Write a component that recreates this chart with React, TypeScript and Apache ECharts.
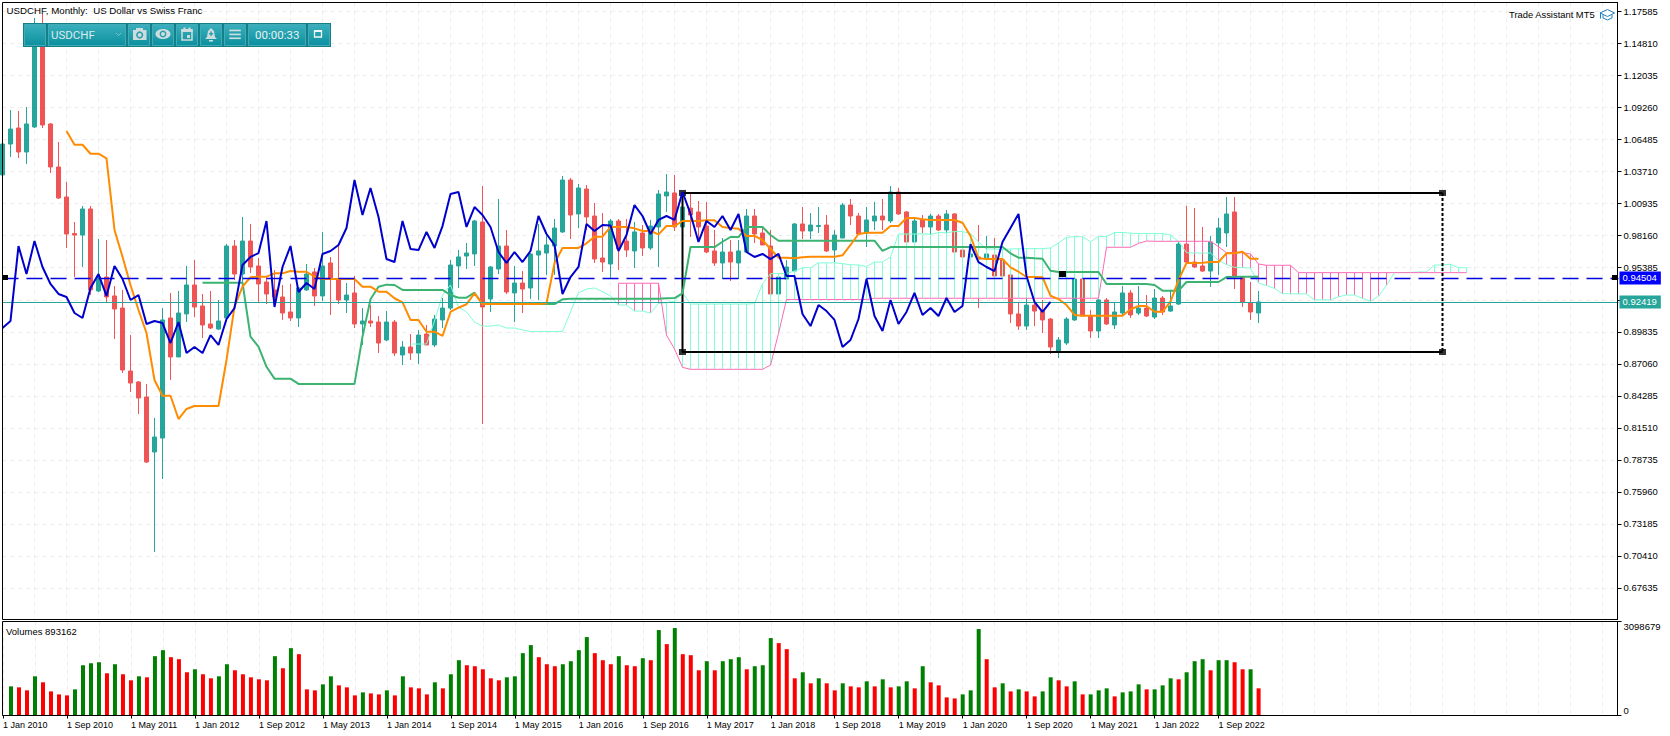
import React, { useEffect, useRef } from "react";
import * as echarts from "echarts";

const TICK_FONT = "Liberation Sans";
const tickLabels = ["1 Jan 2010","1 Sep 2010","1 May 2011","1 Jan 2012","1 Sep 2012","1 May 2013","1 Jan 2014","1 Sep 2014","1 May 2015","1 Jan 2016","1 Sep 2016","1 May 2017","1 Jan 2018","1 Sep 2018","1 May 2019","1 Jan 2020","1 Sep 2020","1 May 2021","1 Jan 2022","1 Sep 2022"];
const priceTicks = [1.17585,1.1481,1.12035,1.0926,1.06485,1.0371,1.00935,0.9816,0.95385,0.9261,0.89835,0.8706,0.84285,0.8151,0.78735,0.7596,0.73185,0.7041,0.67635];
const priceTickUnderTag = 0.9261;
const volumeTicks = [0, 3098679];
const bidPrice = 0.94504;
const lastPrice = 0.92419;
const boxLeft = 85, boxRight = 180, boxTop = 1.0187, boxBottom = 0.8808;

const opens = [1.0343,1.0611,1.0750,1.0542,1.0759,1.1600,1.0785,1.0412,1.0152,.9835,.9822,1.0048,.9337,.9458,.9294,.9189,.8643,.8548,.8418,.7941,.8062,.9103,.8765,.9138,.9389,.9207,.9051,.9007,.9103,.9727,.9484,.9770,.9554,.9415,.9346,.9285,.9155,.9103,.9346,.9502,.9294,.9580,.9441,.9259,.9320,.9051,.9077,.9068,.8912,.9068,.8782,.8851,.8799,.8964,.8869,.9086,.9189,.9554,.9640,.9658,.9935,.9268,.9528,.9727,.9320,.9406,.9363,.9649,.9666,.9727,.9849,1.0299,1.0005,1.0221,.9987,.9623,.9571,.9944,.9770,.9684,.9840,.9710,.9892,1.0161,1.0187,.9892,1.0056,1.0022,.9900,.9684,.9580,.9675,.9580,.9675,.9987,.9840,.9727,.9311,.9441,.9510,.9918,.9857,.9896,.9909,.9692,.9796,1.0082,.9987,.9840,.9944,.9987,.9944,1.0195,1.0022,.9762,.9953,.9892,.9987,.9866,1.0005,.9692,.9632,.9632,.9623,.9649,.9606,.9476,.9138,.9033,.9215,.9163,.9094,.8817,.8886,.9086,.9441,.9120,.8990,.9259,.9042,.9146,.9320,.9146,.9189,.9111,.9276,.9163,.9224,.9744,.9588,.9554,.9510,.9753,.9840,1.0022,.9458,.9233,.9146];
const closes = [1.0611,1.0741,1.0542,1.0785,1.1600,1.0776,1.0412,1.0143,.9831,.9822,1.0048,.9346,.9458,.9285,.9181,.8652,.8539,.8409,.7854,.8071,.9086,.8765,.9146,.9389,.9198,.9042,.9016,.9077,.9727,.9484,.9770,.9545,.9398,.9311,.9285,.9146,.9103,.9363,.9484,.9294,.9554,.9441,.9259,.9302,.9051,.9077,.9059,.8886,.9068,.8799,.8851,.8799,.8955,.8869,.9094,.9189,.9562,.9632,.9666,.9944,.9198,.9545,.9727,.9328,.9406,.9354,.9658,.9684,.9736,.9883,1.0299,.9996,1.0230,.9979,.9614,.9588,.9944,.9701,.9692,.9849,.9710,.9900,1.0178,1.0195,.9892,1.0065,.9996,.9892,.9675,.9580,.9675,.9588,.9684,.9987,.9831,.9736,.9311,.9458,.9545,.9918,.9857,.9909,.9905,.9684,.9822,1.0082,.9987,.9831,.9953,.9987,.9953,1.0195,1.0005,.9762,.9944,.9892,.9987,.9866,1.0005,.9675,.9632,.9658,.9614,.9658,.9467,.9467,.9138,.9033,.9215,.9163,.9086,.8851,.8912,.9094,.9441,.9120,.8990,.9259,.9051,.9155,.9320,.9129,.9189,.9120,.9276,.9155,.9207,.9744,.9588,.9545,.9510,.9762,.9883,1.0005,.9467,.9242,.9155,.9242];
const lows = [1.0343,1.0499,1.0490,1.0438,1.0750,1.0750,1.0360,1.0135,.9710,.9458,.9545,.9302,.9328,.9233,.8921,.8626,.8461,.8271,.7846,.7074,.7707,.8565,.8765,.9068,.9111,.8929,.9007,.8999,.9068,.9432,.9406,.9493,.9242,.9224,.9198,.9086,.9077,.9025,.9337,.9207,.9250,.9129,.9224,.9146,.9016,.8869,.9025,.8799,.8903,.8773,.8695,.8739,.8704,.8869,.8851,.9016,.9172,.9363,.9528,.9554,.8184,.9155,.9484,.9311,.9068,.9146,.9268,.9259,.9476,.9476,.9840,.9788,.9883,.9866,.9580,.9502,.9450,.9519,.9632,.9536,.9640,.9692,.9545,1.0022,.9857,.9892,.9805,.9779,.9666,.9554,.9441,.9424,.9441,.9666,.9753,.9736,.9311,.9311,.9432,.9502,.9788,.9788,.9840,.9675,.9588,.9796,.9909,.9822,.9718,.9866,.9866,.9926,.9996,.9762,.9762,.9840,.9822,.9857,.9822,.9675,.9632,.9632,.9189,.9606,.9467,.9467,.9059,.8999,.8999,.9033,.8973,.8791,.8756,.8869,.9077,.9120,.8929,.8929,.9042,.9007,.9129,.9103,.9129,.9111,.9094,.9129,.9155,.9215,.9580,.9536,.9502,.9372,.9476,.9718,.9354,.9198,.9086,.9059];
const highs = [1.0611,1.0906,1.0898,1.0932,1.1704,1.1739,1.0793,1.0629,1.0282,.9935,1.0074,1.0074,.9788,.9779,.9380,.9346,.8955,.8557,.8531,.8236,.9189,.9320,.9337,.9554,.9606,.9311,.9337,.9259,.9744,.9779,.9979,.9918,.9623,.9458,.9519,.9389,.9398,.9372,.9571,.9536,.9849,.9632,.9727,.9406,.9467,.9189,.9215,.9120,.9163,.9086,.8903,.8964,.8999,.9042,.9129,.9276,.9606,.9692,.9753,.9953,1.0247,.9554,1.0135,.9866,.9554,.9510,.9666,.9918,.9840,.9961,1.0334,1.0317,1.0265,1.0256,1.0100,1.0013,.9961,.9961,.9961,.9935,.9909,.9953,1.0213,1.0351,1.0343,1.0187,1.0178,1.0117,1.0109,.9866,.9796,.9779,.9779,1.0048,1.0048,.9883,.9866,.9458,.9606,.9926,1.0065,1.0013,1.0065,.9996,.9866,1.0100,1.0135,1.0013,1.0065,1.0109,1.0135,1.0247,1.0230,1.0030,.9970,.9996,1.0005,1.0005,1.0039,1.0013,.9736,.9675,.9909,.9814,.9796,.9692,.9476,.9242,.9458,.9259,.9259,.9103,.8938,.9111,.9441,.9441,.9172,.9268,.9276,.9242,.9380,.9346,.9380,.9302,.9354,.9294,.9346,.9762,1.0074,1.0056,.9892,.9814,.9970,1.0152,1.0152,.9467,.9415,.9337];

const tenkanStart = 8;
const tenkan = [1.0724,1.0605,1.0605,1.0527,1.0527,1.0487,.9866,.9634,.9389,.9172,.8973,.8565,.8429,.8429,.8227,.8314,.8340,.8340,.8340,.8340,.8739,.9201,.9374,.9456,.9461,.9461,.9490,.9490,.9510,.9504,.9504,.9461,.9441,.9441,.9441,.9441,.9441,.9374,.9374,.9331,.9331,.9274,.9239,.9086,.9086,.8984,.8984,.8947,.9155,.9192,.9222,.9317,.9224,.9224,.9224,.9224,.9224,.9224,.9224,.9224,.9230,.9577,.9710,.9710,.9710,.9750,.9808,.9808,.9892,.9892,.9892,.9880,.9857,.9857,.9828,.9900,.9900,.9944,.9944,.9944,.9950,.9950,.9892,.9883,.9877,.9814,.9814,.9779,.9701,.9626,.9626,.9620,.9629,.9634,.9634,.9634,.9634,.9646,.9736,.9831,.9842,.9842,.9842,.9900,.9900,.9970,.9970,.9959,.9953,.9953,.9953,.9953,.9929,.9814,.9620,.9614,.9614,.9614,.9542,.9504,.9458,.9458,.9456,.9296,.9267,.9215,.9129,.9123,.9123,.9123,.9123,.9123,.9123,.9178,.9207,.9207,.9157,.9157,.9244,.9432,.9580,.9580,.9582,.9588,.9588,.9664,.9664,.9678,.9617,.9617];

const kijunStart = 25;
const kijun = [.9409,.9409,.9409,.9409,.9409,.9409,.8941,.8854,.8680,.8577,.8577,.8577,.8531,.8531,.8531,.8531,.8531,.8531,.8531,.8531,.8941,.9265,.9374,.9392,.9389,.9346,.9346,.9346,.9346,.9346,.9346,.9302,.9279,.9279,.9322,.9224,.9224,.9224,.9224,.9224,.9224,.9224,.9224,.9224,.9224,.9265,.9270,.9270,.9270,.9270,.9270,.9270,.9270,.9270,.9270,.9270,.9270,.9270,.9274,.9276,.9317,.9718,.9718,.9718,.9718,.9764,.9805,.9805,.9892,.9892,.9892,.9822,.9773,.9773,.9773,.9773,.9773,.9773,.9773,.9773,.9773,.9773,.9773,.9773,.9773,.9684,.9718,.9718,.9718,.9718,.9718,.9718,.9718,.9718,.9718,.9718,.9718,.9718,.9718,.9718,.9718,.9664,.9626,.9626,.9620,.9617,.9513,.9502,.9502,.9502,.9502,.9502,.9502,.9398,.9398,.9398,.9398,.9398,.9398,.9389,.9340,.9340,.9340,.9415,.9415,.9415,.9415,.9415,.9458,.9461,.9461,.9461,.9461];

const senkouAStart = 51;
const senkouA = [.8877,.8877,.8877,.9077,.9302,.9389,.9198,.9155,.9068,.9033,.9033,.9042,.9016,.9016,.8999,.8986,.8986,.8986,.8986,.8986,.9155,.9320,.9354,.9363,.9331,.9294,.9215,.9215,.9163,.9163,.9146,.9229,.9235,.9250,.9320,.9224,.9224,.9224,.9224,.9224,.9224,.9224,.9224,.9227,.9400,.9487,.9487,.9489,.9510,.9539,.9539,.9581,.9581,.9581,.9575,.9563,.9563,.9549,.9588,.9588,.9632,.9831,.9831,.9831,.9834,.9828,.9844,.9841,.9853,.9853,.9835,.9762,.9701,.9701,.9697,.9701,.9704,.9704,.9704,.9704,.9710,.9753,.9802,.9808,.9808,.9763,.9809,.9809,.9844,.9844,.9838,.9835,.9835,.9835,.9835,.9823,.9766,.9669,.9666,.9666,.9666,.9603,.9565,.9542,.9539,.9536,.9406,.9384,.9359,.9315,.9312,.9312,.9312,.9260,.9260,.9260,.9287,.9302,.9302,.9273,.9249,.9292,.9386,.9497,.9497,.9498,.9502,.9502,.9562,.9562,.9569,.9539,.9539];

const senkouBStart = 77;
const senkouB = [.9404,.9404,.9404,.9404,.9404,.9404,.8955,.8834,.8675,.8658,.8658,.8658,.8658,.8658,.8658,.8658,.8658,.8658,.8658,.8695,.8970,.9263,.9263,.9263,.9263,.9263,.9263,.9263,.9263,.9263,.9263,.9263,.9274,.9274,.9274,.9274,.9274,.9274,.9274,.9274,.9274,.9274,.9274,.9274,.9274,.9274,.9274,.9274,.9274,.9274,.9274,.9274,.9274,.9274,.9274,.9274,.9274,.9274,.9274,.9274,.9274,.9716,.9716,.9716,.9716,.9750,.9770,.9768,.9768,.9768,.9768,.9768,.9768,.9768,.9768,.9721,.9669,.9669,.9669,.9658,.9571,.9560,.9560,.9560,.9560,.9496,.9496,.9496,.9496,.9496,.9496,.9496,.9496,.9496,.9496,.9496,.9496,.9496,.9496,.9496,.9496,.9496,.9496,.9496,.9496,.9496,.9496];

// The lagging span is the monthly close plotted 26 bars back
const chikou = closes.slice(26);

const volumeStart = 1;
const volumesK = [961,928,829,1292,1094,795,696,663,862,1657,1723,1756,1392,1690,1359,1160,1292,1259,1955,2154,1922,1856,1425,1524,1359,1226,1292,1690,1491,1359,1259,1193,1160,1955,1558,2220,2022,862,829,1027,1292,994,928,663,762,729,696,829,663,1292,928,895,696,1094,895,1359,1823,1657,1624,1524,1226,1160,1259,1292,2055,2320,1922,1690,1624,1690,1790,2154,2585,2055,1823,1690,1955,1657,1624,1889,1823,2817,2353,2883,2022,1988,1491,1790,1491,1790,1856,1922,1524,1624,1657,2552,2386,2187,1226,1425,1061,1226,1061,829,1061,961,928,1127,961,1193,928,961,1127,895,1624,1094,994,597,563,696,829,2850,1856,928,1061,795,862,795,630,795,1259,1160,961,1127,696,696,829,895,630,762,795,1027,862,862,994,1226,1193,1425,1790,1856,1491,1823,1823,1756,1524,1524,895];

const BAR_SLOTS = 203;
const categories = Array.from({ length: BAR_SLOTS }, (_, i) => (i % 8 === 0 && tickLabels[i / 8]) || `m${i}`);
const isLabelled = (i: number) => i % 8 === 0 && i / 8 < tickLabels.length;
const isGridded = (i: number) => i % 4 === 0;

const pairs = (start: number, values: number[]) => values.map((v, i) => [i + start, v]);

const BTN_GRAD = () =>
  new echarts.graphic.LinearGradient(0, 0, 0, 1, [
    { offset: 0, color: "#3aafbd" },
    { offset: 1, color: "#0c909f" },
  ]);
const ICON = "#cfdcdd";
const TOP = 100;

function toolbar(): any[] {
  const els: any[] = [];
  const r = (x: number, y: number, w: number, h: number, style: any, z = TOP) =>
    els.push({ type: "rect", shape: { x, y, width: w, height: h }, style, z, silent: true });
  r(23, 23, 308, 24, { fill: "#127f8b" });
  const buttons = [[24, 22], [48, 78], [128, 22], [152, 22], [176, 22], [200, 22], [224, 22], [248, 58], [308, 22]];
  buttons.forEach(([x, w]) => r(x + 0.5, 24.5, w - 1, 21, { fill: BTN_GRAD(), stroke: "#44abb6", lineWidth: 1 }, TOP + 1));
  const z = TOP + 2;
  const text = (x: number, y: number, t: string, fill: string, font: string) =>
    els.push({ type: "text", x, y, style: { text: t, fill, font, textVerticalAlign: "middle" }, z, silent: true });
  text(51, 34.5, "USDCHF", "#dcebec", '11.5px "Roboto"');
  text(255, 34.5, "00:00:33", "#e6f2f3", '11.5px "Roboto"');
  els.push({ type: "polyline", shape: { points: [[116, 33], [118.5, 35.5], [121, 33]] }, style: { stroke: "#7fc4cc", fill: "none", lineWidth: 1 }, z, silent: true });
  // camera
  r(133, 30, 13.5, 10, { fill: ICON }, z);
  r(136, 28, 7, 3, { fill: ICON }, z);
  els.push({ type: "circle", shape: { cx: 139.7, cy: 35, r: 3.6 }, style: { fill: "#2a9fae" }, z: z + 1, silent: true });
  els.push({ type: "circle", shape: { cx: 139.7, cy: 35, r: 2 }, style: { fill: ICON }, z: z + 2, silent: true });
  // eye
  els.push({ type: "ellipse", shape: { cx: 163, cy: 34, rx: 7.5, ry: 5 }, style: { fill: ICON }, z, silent: true });
  els.push({ type: "circle", shape: { cx: 163, cy: 34, r: 3.4 }, style: { fill: "#2a9fae" }, z: z + 1, silent: true });
  els.push({ type: "circle", shape: { cx: 163, cy: 34, r: 2 }, style: { fill: ICON }, z: z + 2, silent: true });
  // calendar
  r(182, 30, 10, 10, { fill: "none", stroke: ICON, lineWidth: 1.5 }, z);
  r(181.5, 29, 11, 3, { fill: ICON }, z);
  r(183.5, 27.5, 2, 2, { fill: ICON }, z);
  r(188.5, 27.5, 2, 2, { fill: ICON }, z);
  r(187, 35, 3, 3, { fill: ICON }, z);
  // bell
  els.push({ type: "polygon", shape: { points: [[211, 28], [214, 31], [215, 37], [217, 39], [205, 39], [207, 37], [208, 31]] }, style: { fill: ICON }, z, silent: true });
  r(209, 40, 4, 1.6, { fill: ICON }, z);
  r(210.4, 31.5, 1.4, 4.4, { fill: "#2a9fae" }, z + 1);
  r(209, 33, 4.2, 1.4, { fill: "#2a9fae" }, z + 1);
  // menu
  [29.6, 33.6, 37.4].forEach((y) => r(229.3, y, 11.5, 1.7, { fill: ICON }, z));
  // restore
  r(314.5, 31, 7, 6, { fill: "none", stroke: "#f2f8f8", lineWidth: 1.3 }, z);
  r(314, 30, 8, 2, { fill: "#f2f8f8" }, z);
  return els;
}

function decorations(): any[] {
  const c = "#1f7fc1";
  const stroke = { stroke: c, fill: "none", lineWidth: 1 };
  return [
    { type: "rect", shape: { x: 2.5, y: 2.5, width: 1615, height: 617 }, style: { fill: "none", stroke: "#000", lineWidth: 1 }, z: 60, silent: true },
    { type: "rect", shape: { x: 2.5, y: 621.5, width: 1615, height: 94 }, style: { fill: "none", stroke: "#000", lineWidth: 1 }, z: 60, silent: true },
    { type: "text", x: 6.5, y: 10, style: { text: "USDCHF, Monthly:  US Dollar vs Swiss Franc", fill: "#000", font: `9.7px "${TICK_FONT}"`, textVerticalAlign: "middle" }, z: 61, silent: true },
    { type: "text", x: 1509, y: 14.5, style: { text: "Trade Assistant MT5", fill: "#000", font: `9.4px "${TICK_FONT}"`, textVerticalAlign: "middle" }, z: 61, silent: true },
    { type: "text", x: 6, y: 631, style: { text: "Volumes 893162", fill: "#000", font: `9.5px "${TICK_FONT}"`, textVerticalAlign: "middle" }, z: 61, silent: true },
    { type: "polygon", shape: { points: [[1600, 13], [1607.5, 9.5], [1614.5, 13], [1607.5, 16.5]] }, style: stroke, z: 61, silent: true },
    { type: "polyline", shape: { points: [[1603, 15], [1603, 18], [1607.5, 20], [1612, 18], [1612, 15]] }, style: stroke, z: 61, silent: true },
    { type: "polyline", shape: { points: [[1600.5, 13], [1600.5, 18.5]] }, style: stroke, z: 61, silent: true },
    { type: "rect", shape: { x: 3, y: 275, width: 5, height: 5 }, style: { fill: "#000" }, z: 61, silent: true },
    { type: "rect", shape: { x: 1612, y: 275, width: 5, height: 5 }, style: { fill: "#000" }, z: 61, silent: true },
    { type: "rect", shape: { x: 1059, y: 271, width: 7, height: 6 }, style: { fill: "#000" }, z: 61, silent: true },
  ];
}

const lineSeries = (name: string, data: number[][], color: string, width: number, z: number, extra: any = {}) => ({
  name, type: "line", data, xAxisIndex: 0, yAxisIndex: 0, symbol: "none", showSymbol: false, z, silent: true,
  lineStyle: { color, width }, itemStyle: { color }, ...extra,
});

const markLabel = (text: string, bg: string) => ({
  show: true, position: "end", distance: 1, formatter: text, color: "#fff", backgroundColor: bg,
  fontFamily: TICK_FONT, fontSize: 9.5, padding: [2, 4, 1, 3],
});

export default function App() {
  const ref = useRef<HTMLDivElement>(null);
  useEffect(() => {
    if (!ref.current) return;
    const chart = echarts.init(ref.current, undefined, { renderer: "svg" });
    const candleData = opens.map((o, i) => [o, closes[i], lows[i], highs[i]]);
    const aAt = (i: number) => senkouA[i - senkouAStart];
    const bAt = (i: number) => senkouB[i - senkouBStart];
    const hatch = senkouB.map((_, k) => {
      const i = k + senkouBStart;
      return [i, aAt(i), bAt(i)];
    });
    const volumeData = volumesK.map((v, k) => ({
      value: [k + volumeStart, v * 1000],
      itemStyle: { color: k === 0 || v >= volumesK[k - 1] ? "#008000" : "#ff0000" },
    }));
    const xBase = {
      type: "category", boundaryGap: false, data: categories,
      splitLine: { show: true, interval: (i: number) => isGridded(i), lineStyle: { color: "#ececec", type: [4, 4], width: 1 } },
    };
    const labelBase = { color: "#000", fontFamily: TICK_FONT, fontSize: 9.5 };
    chart.setOption({
      animation: false,
      backgroundColor: "#fff",
      grid: [
        { left: 2.5, top: 2.5, width: 1616, height: 617 },
        { left: 2.5, top: 621.5, width: 1616, height: 94 },
      ],
      xAxis: [
        { ...xBase, gridIndex: 0, axisLine: { show: false }, axisTick: { show: false }, axisLabel: { show: false } },
        {
          ...xBase, gridIndex: 1,
          axisLine: { show: true, lineStyle: { color: "#000", width: 1 } },
          axisTick: { show: true, length: 3, interval: (i: number) => isLabelled(i), lineStyle: { color: "#000" } },
          axisLabel: { ...labelBase, fontSize: 9, margin: 5, align: "left", interval: (i: number) => isLabelled(i), hideOverlap: false },
        },
      ],
      yAxis: [
        {
          type: "value", gridIndex: 0, position: "right", offset: -1, min: 0.64888, max: 1.18382, scale: true,
          axisLine: { show: true, onZero: false, lineStyle: { color: "#000" } },
          axisTick: { show: true, length: 4, customValues: priceTicks, lineStyle: { color: "#000" } },
          axisLabel: { ...labelBase, margin: 6, customValues: priceTicks, formatter: (v: number) => (Math.abs(v - priceTickUnderTag) < 1e-6 ? "" : v.toFixed(5)) },
          splitLine: { show: true, lineStyle: { color: "#ececec", type: [4, 4], width: 1 } },
        },
        {
          type: "value", gridIndex: 1, position: "right", offset: -1, min: 0, max: 3098679,
          axisLine: { show: true, lineStyle: { color: "#000" } },
          axisTick: { show: true, length: 4, customValues: volumeTicks, lineStyle: { color: "#000" } },
          axisLabel: { ...labelBase, margin: 6, customValues: volumeTicks, formatter: (v: number) => String(v), verticalAlignMinLabel: "bottom", verticalAlignMaxLabel: "top", showMinLabel: true, showMaxLabel: true },
          splitLine: { show: false },
        },
      ],
      series: [
        {
          name: "USDCHF", type: "candlestick", data: candleData, xAxisIndex: 0, yAxisIndex: 0, barWidth: 5, z: 1, silent: true,
          itemStyle: { color: "#26a69a", color0: "#f05555", borderColor: "#26a69a", borderColor0: "#f05555", borderWidth: 1 },
        },
        {
          name: "Cloud", type: "custom", data: hatch, xAxisIndex: 0, yAxisIndex: 0, z: 2, silent: true,
          encode: { x: 0, y: [1, 2] },
          renderItem: (_: any, api: any) => {
            const i = api.value(0), a = api.value(1), b = api.value(2);
            const p1 = api.coord([i, a]), p2 = api.coord([i, b]);
            return {
              type: "line",
              shape: { x1: p1[0], y1: p1[1], x2: p2[0], y2: p2[1] },
              style: { stroke: a >= b ? "#7fffd4" : "#ff69b4", lineWidth: 1 },
            };
          },
        },
        lineSeries("Senkou Span A", pairs(senkouAStart, senkouA), "#7fffd4", 1, 2, {
          markLine: {
            silent: true, symbol: "none", animation: false, precision: 5,
            data: [
              { yAxis: lastPrice, lineStyle: { color: "#26a69a", width: 1, type: "solid" }, label: markLabel(lastPrice.toFixed(5), "#26a69a") },
              { yAxis: bidPrice, lineStyle: { color: "#0000e0", width: 1.3, type: [16, 8] }, label: markLabel(bidPrice.toFixed(5), "#0000ff") },
            ],
          },
        }),
        lineSeries("Senkou Span B", pairs(senkouBStart, senkouB), "#ff69b4", 1, 2),
        lineSeries("Box", [[boxRight, boxTop], [boxLeft, boxTop], [boxLeft, boxBottom], [boxRight, boxBottom]], "#000", 2, 3),
        lineSeries("Box edge", [[boxRight, boxTop], [boxRight, boxBottom]], "#000", 2, 3, { lineStyle: { color: "#000", width: 2, type: [3, 2] } }),
        {
          name: "Box anchors", type: "scatter", xAxisIndex: 0, yAxisIndex: 0, symbol: "rect", symbolSize: [7, 6], z: 3, silent: true,
          itemStyle: { color: "#000" },
          data: [[boxLeft, boxTop], [boxRight, boxTop], [boxLeft, boxBottom], [boxRight, boxBottom]],
        },
        lineSeries("Kijun-sen", pairs(kijunStart, kijun), "#3cb371", 2, 4),
        lineSeries("Tenkan-sen", pairs(tenkanStart, tenkan), "#ff8c00", 2, 4),
        lineSeries("Chikou Span", pairs(0, chikou), "#0000cd", 2, 5),
        { name: "Volumes", type: "bar", data: volumeData, xAxisIndex: 1, yAxisIndex: 1, barWidth: 4, silent: true },
      ],
      graphic: { elements: [...decorations(), ...toolbar()] },
    });
    return () => chart.dispose();
  }, []);
  return <div ref={ref} style={{ position: "fixed", left: 0, top: 0, width: 1670, height: 736, background: "#fff" }} />;
}
